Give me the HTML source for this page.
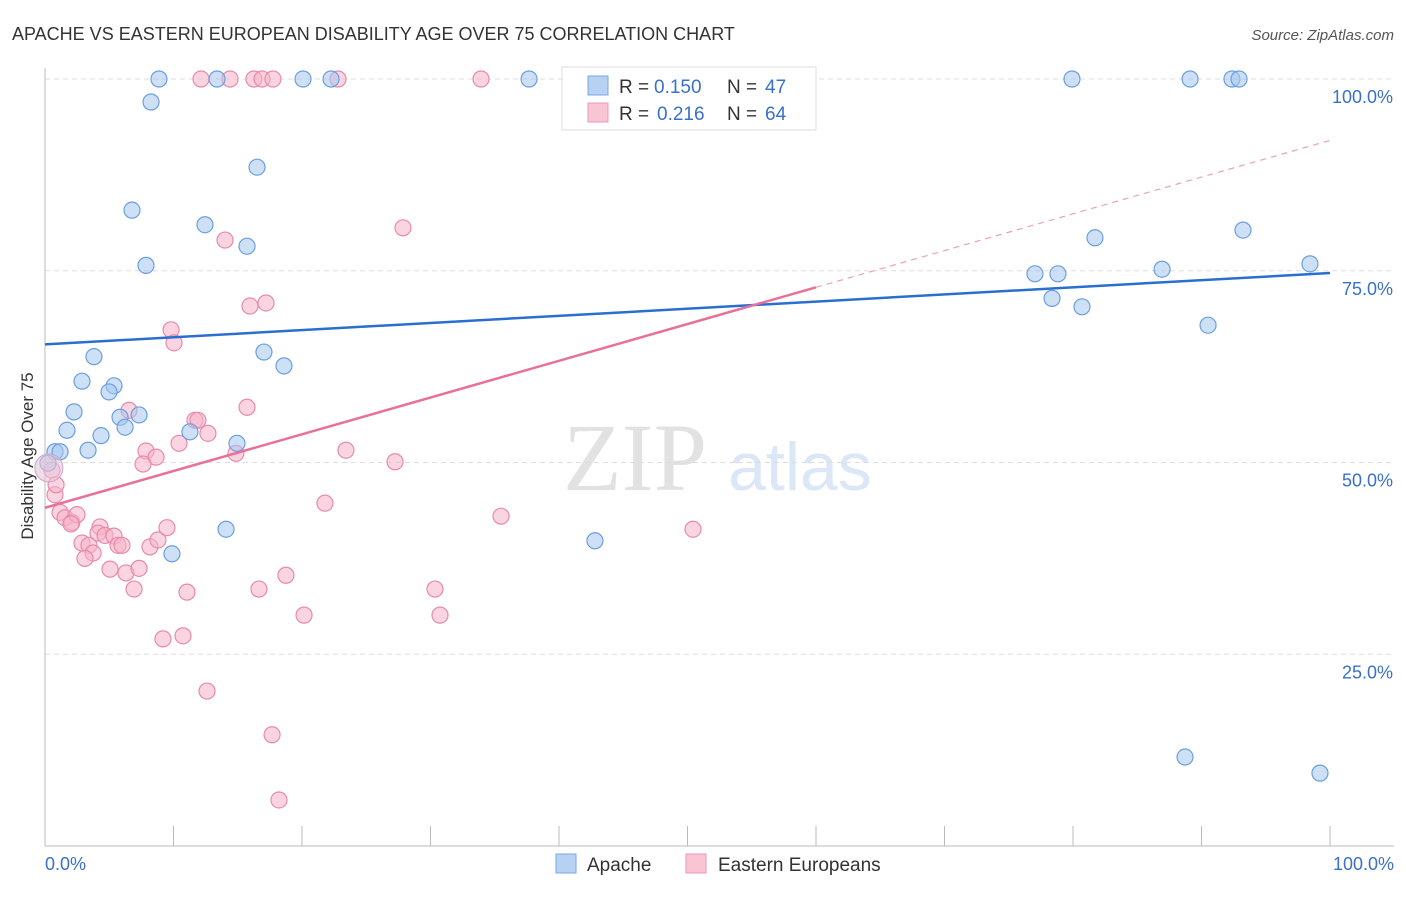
<!DOCTYPE html>
<html><head><meta charset="utf-8">
<style>
body{margin:0;background:#fff;font-family:"Liberation Sans",sans-serif;}
svg text{font-family:"Liberation Sans",sans-serif;}
</style></head>
<body>
<svg id="chart" width="1406" height="892">
<text x="12" y="40" font-size="18" fill="#333">APACHE VS EASTERN EUROPEAN DISABILITY AGE OVER 75 CORRELATION CHART</text>
<text x="1394" y="40" font-size="15" fill="#555" text-anchor="end" font-style="italic">Source: ZipAtlas.com</text>
<text x="33" y="456" font-size="17" fill="#333" text-anchor="middle" transform="rotate(-90 33 456)">Disability Age Over 75</text>
<g><text x="635" y="490" font-size="96" fill="#e2e2e2" text-anchor="middle" style="font-family:'Liberation Serif',serif">ZIP</text><text x="800" y="490" font-size="68" fill="#dbe6f6" text-anchor="middle">atlas</text></g>
<g id="grid"></g><g id="axes"></g><g id="marks"></g>
<g>
<rect x="562" y="67" width="254" height="63" fill="#fff" stroke="#ddd"/>
<rect x="588" y="76" width="20" height="19" fill="#b7d1f3" stroke="#7aa8e6"/>
<rect x="588" y="103" width="20" height="19" fill="#f9c4d4" stroke="#ec9ab4"/>
<text x="619" y="93" font-size="19" fill="#333">R =</text>
<text x="654" y="93" font-size="19" fill="#3a70c8">0.150</text>
<text x="727" y="93" font-size="19" fill="#333">N =</text>
<text x="765" y="93" font-size="19" fill="#3a70c8">47</text>
<text x="619" y="120" font-size="19" fill="#333">R =</text>
<text x="657" y="120" font-size="19" fill="#3a70c8">0.216</text>
<text x="727" y="120" font-size="19" fill="#333">N =</text>
<text x="765" y="120" font-size="19" fill="#3a70c8">64</text>
</g>
<g>
<rect x="556" y="854" width="20" height="19" fill="#b7d1f3" stroke="#7aa8e6"/>
<text x="587" y="871" font-size="19" fill="#333">Apache</text>
<rect x="686" y="854" width="20" height="19" fill="#f9c4d4" stroke="#ec9ab4"/>
<text x="718" y="871" font-size="19" fill="#333">Eastern Europeans</text>
</g>
</svg>
<script>
const apacheX=[0.78,1.17,0.23,8.25,8.87,13.39,20.08,22.26,37.67,79.92,89.11,92.37,92.92,6.77,16.5,12.45,15.72,7.86,3.81,2.88,5.37,4.98,2.26,5.84,7.32,1.71,6.23,4.36,3.35,11.28,14.94,17.04,18.6,14.09,9.88,42.8,81.71,93.23,77.04,78.83,86.93,98.44,78.37,80.7,90.51,88.72,99.22];
const apacheY=[51.4,51.4,49.9,97.0,100,100,100,100,100,100,100,100,100,82.9,88.5,81.0,78.2,75.7,63.8,60.6,60.0,59.2,56.6,55.9,56.2,54.2,54.6,53.5,51.6,54.0,52.5,64.4,62.6,41.3,38.1,39.8,79.3,80.3,74.6,74.6,75.2,75.9,71.4,70.3,67.9,11.6,9.5];
const euroX=[12.14,14.4,16.26,16.89,17.74,22.8,33.93,14.01,27.86,15.95,17.2,9.81,10.04,15.72,6.54,11.67,12.68,10.43,7.86,8.64,7.63,14.86,23.42,27.24,0.54,0.78,1.17,1.56,2.1,2.49,4.28,2.88,3.42,3.74,4.12,4.67,5.37,5.68,5.99,3.11,5.06,6.3,7.32,8.17,8.79,9.49,6.93,11.05,9.18,10.74,12.61,16.65,18.75,20.16,21.79,35.49,30.35,30.74,50.43,17.67,18.21,0.86,2.02,11.9];
const euroY=[100,100,100,100,100,100,100,79.0,80.6,70.4,70.8,67.3,65.6,57.2,56.8,55.5,53.8,52.5,51.5,50.7,49.8,51.2,51.6,50.1,49.0,45.8,43.5,42.8,42.2,43.2,41.6,39.5,39.2,38.2,40.8,40.5,40.4,39.2,39.2,37.5,36.1,35.6,36.2,39.0,39.9,41.5,33.5,33.1,27.0,27.4,20.2,33.5,35.3,30.1,44.7,43.0,33.5,30.1,41.3,14.5,6.0,47.1,42.0,55.5];
const yTicks=[25,50,75,100];
const yTickLabels=["25.0%","50.0%","75.0%","100.0%"];
const apacheLine=[65.4,74.7];
const euroLine=[44.1,92.0];
const euroSolidEnd=60;
const X=v=>45+v*12.85, Y=v=>846-v*7.67;
const NS="http://www.w3.org/2000/svg";
function mk(tag,attrs,parent){const e=document.createElementNS(NS,tag);for(const k in attrs)e.setAttribute(k,attrs[k]);parent.appendChild(e);return e;}
const grid=document.getElementById('grid'),axes=document.getElementById('axes'),marks=document.getElementById('marks');
yTicks.forEach((t,i)=>{
 const l=mk('line',{x1:45,x2:1394,y1:Y(t),y2:Y(t),stroke:'#ddd','stroke-dasharray':'5,4'},grid);
 
 
 const tx=mk('text',{x:1393,y:Y(t)+24,'font-size':18,fill:'#3a70c8','text-anchor':'end'},grid);
 tx.textContent=yTickLabels[i];
 
 
});
const ax=mk('line',{x1:45,x2:1394,y1:846,y2:846,stroke:'#bbb'},axes);


const ay=mk('line',{x1:45,x2:45,y1:68,y2:846,stroke:'#bbb'},axes);


for(let i=0;i<=10;i++){const t=mk('line',{x1:X(i*10),x2:X(i*10),y1:826,y2:846,stroke:'#bbb'},axes);
 
 }
[["0.0%",45,'start'],["100.0%",1394,'end']].forEach(a=>{const t=mk('text',{x:a[1],y:870,'font-size':18,fill:'#3a70c8','text-anchor':a[2]},axes);t.textContent=a[0];
 
 });
function dots(xs,ys,fill,stroke,name){xs.forEach((x,i)=>{const c=mk('circle',{cx:X(x),cy:Y(ys[i]),r:8,fill:fill,'fill-opacity':0.55,stroke:stroke,'stroke-width':1.2},marks);
 
 });}
dots(euroX,euroY,'#f5b3c8','#e88aaa','eastern-european-point');
dots(apacheX,apacheY,'#a6c6ef','#6a9fe0','apache-point');
const big=mk('circle',{cx:X(0.3),cy:Y(49.3),r:14,fill:'#e8c4d8','fill-opacity':0.6,stroke:'#c9a8d0'},marks);


const bl=mk('line',{x1:X(0),y1:Y(apacheLine[0]),x2:X(100),y2:Y(apacheLine[1]),stroke:'#2a6fd0','stroke-width':2.5},marks);


const ey=v=>euroLine[0]+(euroLine[1]-euroLine[0])*v/100;
const pl=mk('line',{x1:X(0),y1:Y(ey(0)),x2:X(euroSolidEnd),y2:Y(ey(euroSolidEnd)),stroke:'#e8709a','stroke-width':2.5},marks);


const pd=mk('line',{x1:X(euroSolidEnd),y1:Y(ey(euroSolidEnd)),x2:X(100),y2:Y(ey(100)),stroke:'#eca0b8','stroke-width':1.2,'stroke-dasharray':'6,5'},marks);


</script>
</body></html>
